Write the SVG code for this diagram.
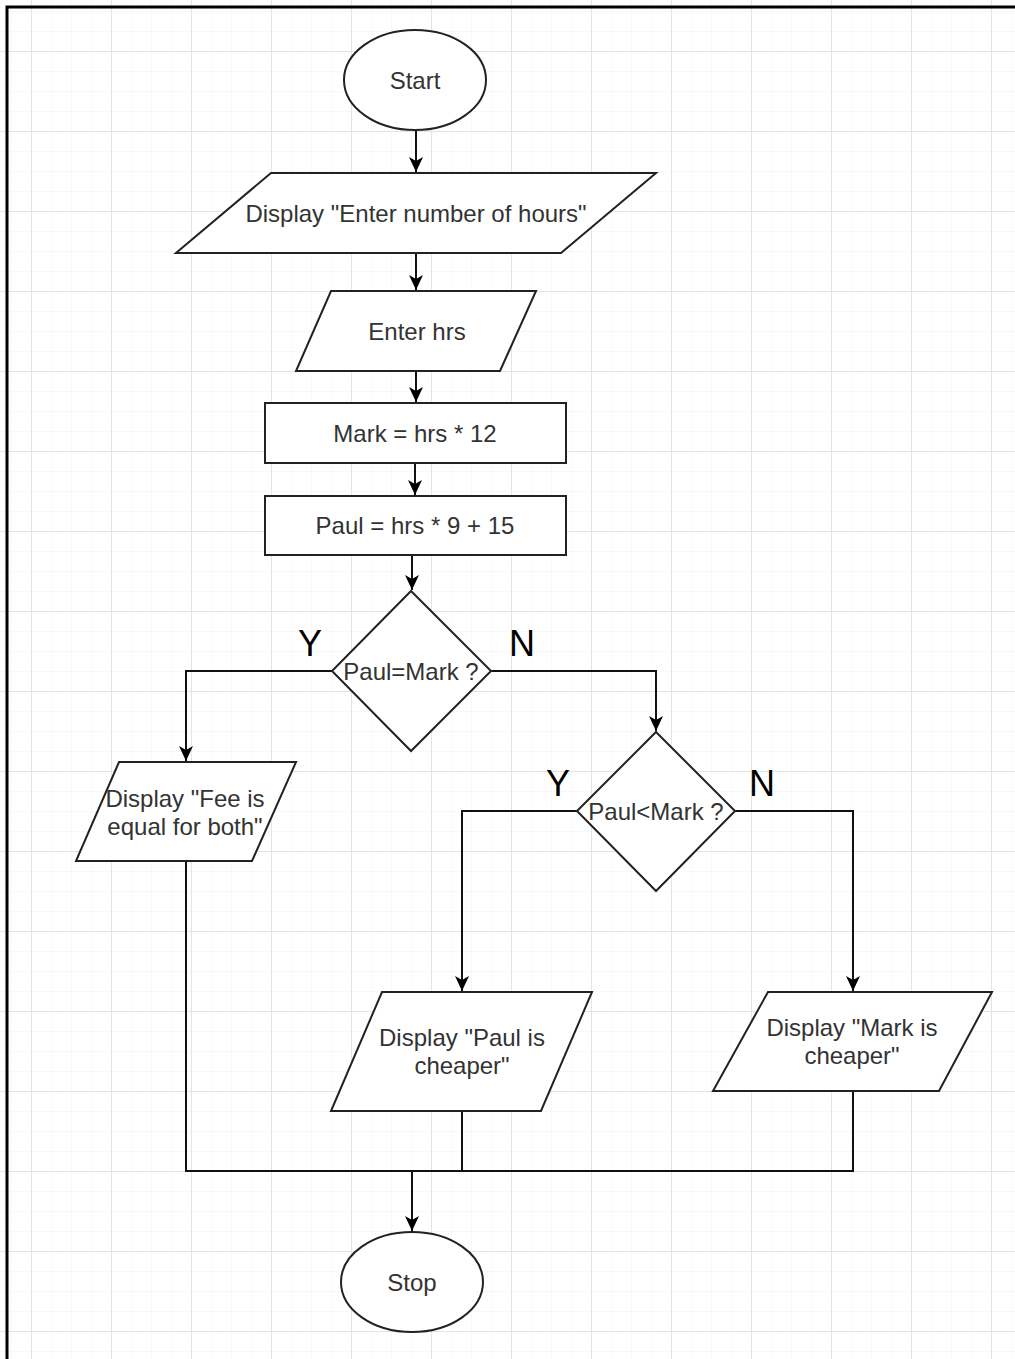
<svg xmlns="http://www.w3.org/2000/svg" width="1015" height="1359" viewBox="0 0 1015 1359">
  <defs>
    <pattern id="minor" x="11" y="11" width="20" height="20" patternUnits="userSpaceOnUse">
      <path d="M0,0 H20 M0,0 V20" fill="none" stroke="#f1f1f1" stroke-width="1"/>
    </pattern>
    <pattern id="major" x="31" y="51" width="80" height="80" patternUnits="userSpaceOnUse">
      <path d="M0,0 H80 M0,0 V80" fill="none" stroke="#dedede" stroke-width="1.5"/>
    </pattern>
    <marker id="arrow" markerUnits="userSpaceOnUse" markerWidth="16" markerHeight="14" refX="15" refY="7" orient="auto">
      <path d="M0,0 L15,7 L0,14 L4,7 Z" fill="#000"/>
    </marker>
    <style>
      .shape { fill: #ffffff; stroke: #222; stroke-width: 2; }
      .label { font-family: "Liberation Sans", Arial, sans-serif; font-size: 24px; fill: #333; text-anchor: middle; }
      .yn { font-family: "Liberation Sans", Arial, sans-serif; font-size: 36px; fill: #000; text-anchor: middle; }
      .edge { fill: none; stroke: #111; stroke-width: 2; }
    </style>
  </defs>

  <rect x="0" y="0" width="1015" height="1359" fill="#ffffff"/>
  <rect x="0" y="0" width="1015" height="1359" fill="url(#minor)"/>
  <rect x="0" y="0" width="1015" height="1359" fill="url(#major)"/>
  <path d="M7,1359 V7 H1015" fill="none" stroke="#000" stroke-width="3"/>

  <g id="connectors">
    <path class="edge" d="M416,130 V172" marker-end="url(#arrow)"/>
    <path class="edge" d="M416,253 V290" marker-end="url(#arrow)"/>
    <path class="edge" d="M416,371 V402" marker-end="url(#arrow)"/>
    <path class="edge" d="M415,463 V495" marker-end="url(#arrow)"/>
    <path class="edge" d="M412,555 V590" marker-end="url(#arrow)"/>
    <path class="edge" d="M332,671 H186 V761" marker-end="url(#arrow)"/>
    <path class="edge" d="M491,671 H656 V731" marker-end="url(#arrow)"/>
    <path class="edge" d="M577,811 H462 V991" marker-end="url(#arrow)"/>
    <path class="edge" d="M735,811 H853 V991" marker-end="url(#arrow)"/>
    <path class="edge" d="M186,861 V1171 H853 V1091"/>
    <path class="edge" d="M462,1111 V1171"/>
    <path class="edge" d="M412,1171 V1231" marker-end="url(#arrow)"/>
  </g>

  <g id="start">
    <ellipse class="shape" cx="415" cy="80" rx="71" ry="50"/>
    <text class="label" x="415" y="89">Start</text>
  </g>

  <g id="display-enter">
    <polygon class="shape" points="271,173 656,173 561,253 176,253"/>
    <text class="label" x="416" y="222">Display "Enter number of hours"</text>
  </g>

  <g id="enter-hrs">
    <polygon class="shape" points="331,291 536,291 500,371 296,371"/>
    <text class="label" x="417" y="340">Enter hrs</text>
  </g>

  <g id="mark-calc">
    <rect class="shape" x="265" y="403" width="301" height="60"/>
    <text class="label" x="415" y="442">Mark = hrs * 12</text>
  </g>

  <g id="paul-calc">
    <rect class="shape" x="265" y="496" width="301" height="59"/>
    <text class="label" x="415" y="534">Paul = hrs * 9 + 15</text>
  </g>

  <g id="decision-equal">
    <polygon class="shape" points="411,591 491,671 411,751 332,671"/>
    <text class="label" x="411" y="680">Paul=Mark ?</text>
  </g>
  <text class="yn" x="310" y="656">Y</text>
  <text class="yn" x="522" y="656">N</text>

  <g id="display-equal">
    <polygon class="shape" points="119,762 296,762 252,861 76,861"/>
    <text class="label" x="185" y="807">Display "Fee is</text>
    <text class="label" x="185" y="835">equal for both"</text>
  </g>

  <g id="decision-less">
    <polygon class="shape" points="656,732 735,811 656,891 577,811"/>
    <text class="label" x="656" y="820">Paul&lt;Mark ?</text>
  </g>
  <text class="yn" x="558" y="796">Y</text>
  <text class="yn" x="762" y="796">N</text>

  <g id="display-paul">
    <polygon class="shape" points="382,992 592,992 541,1111 331,1111"/>
    <text class="label" x="462" y="1046">Display "Paul is</text>
    <text class="label" x="462" y="1074">cheaper"</text>
  </g>

  <g id="display-mark">
    <polygon class="shape" points="768,992 992,992 939,1091 713,1091"/>
    <text class="label" x="852" y="1036">Display "Mark is</text>
    <text class="label" x="852" y="1064">cheaper"</text>
  </g>

  <g id="stop">
    <ellipse class="shape" cx="412" cy="1282" rx="71" ry="50"/>
    <text class="label" x="412" y="1291">Stop</text>
  </g>
</svg>
